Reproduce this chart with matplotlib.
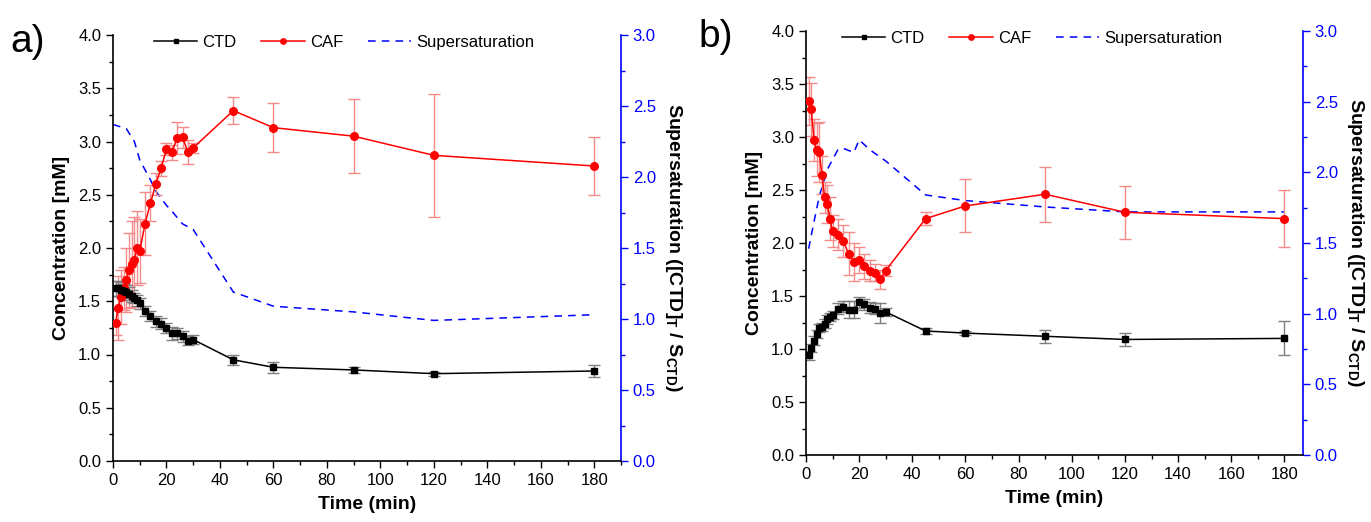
import matplotlib
matplotlib.use("Agg")
import matplotlib.pyplot as plt
from matplotlib.ticker import MultipleLocator, FormatStrFormatter

plt.rcParams['font.family'] = ['Liberation Sans', 'DejaVu Sans']
plt.rcParams['mathtext.fontset'] = 'custom'
plt.rcParams['mathtext.rm'] = 'Liberation Sans'
plt.rcParams['mathtext.bf'] = 'Liberation Sans:bold'

# ---------------- data: panel a ----------------
t_early = [1, 2, 3, 4, 5, 6, 7, 8, 9, 10, 12, 14, 16, 18, 20, 22, 24, 26, 28, 30, 45, 60, 90, 120, 180]

a_ctd = [1.62, 1.62, 1.61, 1.60, 1.59, 1.57, 1.55, 1.53, 1.51, 1.48, 1.41, 1.36, 1.31, 1.29, 1.25,
         1.20, 1.20, 1.17, 1.13, 1.14, 0.95, 0.88, 0.855, 0.82, 0.845]
a_ctd_err = [0.07, 0.07, 0.07, 0.06, 0.06, 0.06, 0.06, 0.05, 0.05, 0.05, 0.05, 0.05, 0.05, 0.05, 0.05,
             0.06, 0.05, 0.05, 0.04, 0.04, 0.05, 0.05, 0.03, 0.02, 0.06]
a_caf = [1.30, 1.44, 1.54, 1.62, 1.70, 1.79, 1.85, 1.89, 2.00, 1.97, 2.23, 2.42, 2.60, 2.75, 2.93,
         2.90, 3.03, 3.04, 2.90, 2.94, 3.29, 3.13, 3.05, 2.87, 2.77]
a_caf_err = [0.12, 0.30, 0.25, 0.20, 0.30, 0.35, 0.40, 0.40, 0.35, 0.30, 0.30, 0.17, 0.10, 0.07, 0.06,
             0.07, 0.15, 0.10, 0.11, 0.05, 0.13, 0.23, 0.35, 0.58, 0.27]
a_ss_t = [0, 5, 8, 10, 14, 16, 20, 22, 26, 30, 45, 60, 90, 120, 180]
a_ss = [2.37, 2.34, 2.25, 2.12, 1.98, 1.90, 1.80, 1.76, 1.67, 1.63, 1.19, 1.09, 1.05, 0.99, 1.03]

# ---------------- data: panel b ----------------
b_ctd = [0.94, 1.01, 1.08, 1.14, 1.20, 1.21, 1.24, 1.28, 1.30, 1.32, 1.38, 1.40, 1.37, 1.37, 1.44,
         1.42, 1.39, 1.38, 1.34, 1.35, 1.17, 1.15, 1.12, 1.09, 1.10]
b_ctd_err = [0.04, 0.04, 0.04, 0.04, 0.04, 0.04, 0.04, 0.04, 0.04, 0.04, 0.05, 0.05, 0.08, 0.08, 0.05,
             0.05, 0.05, 0.05, 0.09, 0.04, 0.03, 0.02, 0.06, 0.06, 0.16]
b_caf = [3.34, 3.26, 2.97, 2.88, 2.86, 2.64, 2.43, 2.37, 2.23, 2.11, 2.08, 2.02, 1.90, 1.82, 1.84,
         1.78, 1.74, 1.72, 1.66, 1.74, 2.23, 2.35, 2.46, 2.29, 2.23]
b_caf_err = [0.23, 0.25, 0.20, 0.25, 0.28, 0.18, 0.15, 0.18, 0.20, 0.15, 0.15, 0.15, 0.20, 0.18, 0.12,
             0.12, 0.10, 0.08, 0.09, 0.05, 0.06, 0.25, 0.26, 0.25, 0.27]
b_ss_t = [1, 3, 5, 8, 12, 14, 18, 20, 24, 30, 45, 60, 90, 120, 180]
b_ss = [1.46, 1.65, 1.83, 2.02, 2.16, 2.17, 2.14, 2.23, 2.16, 2.08, 1.84, 1.80, 1.755, 1.72, 1.72]

x_ticks = [0, 20, 40, 60, 80, 100, 120, 140, 160, 180]

W, H = 1371, 522
fig = plt.figure(figsize=(W / 100, H / 100), dpi=100)


def panel(rect, letter, letter_xy, ctd, ctd_err, caf, caf_err, ss_t, ss, xmax):
    l, t, r, b = rect
    ax = fig.add_axes([l / W, 1 - b / H, (r - l) / W, (b - t) / H])
    ax2 = ax.twinx()
    ax.set_zorder(ax2.get_zorder() + 1)
    ax.patch.set_visible(False)

    ax.errorbar(t_early, caf, yerr=caf_err, fmt='none', ecolor='#f58a8a', elinewidth=1,
                capsize=4, capthick=1, zorder=2)
    ax.errorbar(t_early, ctd, yerr=ctd_err, fmt='none', ecolor='#7f7f7f', elinewidth=1,
                capsize=4, capthick=1, zorder=2)
    l1, = ax.plot(t_early, ctd, '-s', color='black', ms=5, lw=1.1, label='CTD', zorder=4)
    l2, = ax.plot(t_early, caf, '-o', color='red', ms=5.5, lw=1.1, label='CAF', zorder=3)
    l3, = ax2.plot(ss_t, ss, '--', color='#0000ff', lw=1.1, dashes=(5, 4), label='Supersaturation')

    ax.set_xlim(0, xmax)
    ax.set_ylim(0, 4.0)
    ax2.set_ylim(0, 3.0)
    ax.set_xticks(x_ticks)
    ax.xaxis.set_minor_locator(MultipleLocator(10))
    ax.yaxis.set_major_locator(MultipleLocator(0.5))
    ax.yaxis.set_minor_locator(MultipleLocator(0.25))
    ax2.yaxis.set_major_locator(MultipleLocator(0.5))
    ax2.yaxis.set_minor_locator(MultipleLocator(0.25))
    ax.yaxis.set_major_formatter(FormatStrFormatter('%.1f'))
    ax2.yaxis.set_major_formatter(FormatStrFormatter('%.1f'))

    for a in (ax, ax2):
        a.spines['top'].set_visible(False)
    ax.spines['right'].set_visible(False)
    ax2.spines['left'].set_visible(False)
    ax2.spines['bottom'].set_visible(False)
    ax2.spines['right'].set_color('#0000ff')
    ax2.spines['right'].set_linewidth(1.2)
    ax.spines['left'].set_linewidth(1.2)
    ax.spines['bottom'].set_linewidth(1.2)

    ax.tick_params(axis='both', which='major', direction='out', length=5, width=1, labelsize=12)
    ax.tick_params(axis='both', which='minor', direction='out', length=3, width=1)
    ax2.tick_params(axis='y', which='major', direction='out', length=5, width=1, labelsize=12,
                    colors='#0000ff')
    ax2.tick_params(axis='y', which='minor', direction='out', length=3, width=1, colors='#0000ff')

    ax.set_xlabel('Time (min)', fontsize=14, fontweight='bold', labelpad=6)
    ax.set_ylabel('Concentration [mM]', fontsize=14, fontweight='bold', labelpad=6)
    ax2.set_ylabel(r'Supersaturation ([CTD]$_\mathbf{T}$ / S$_\mathbf{CTD}$)', fontsize=14,
                   fontweight='bold', rotation=270, labelpad=20)

    ax.legend(handles=[l1, l2, l3], loc='upper center', bbox_to_anchor=(0.455, 1.035), ncol=3,
              frameon=False, fontsize=12, handlelength=2.6, columnspacing=1.5, handletextpad=0.3,
              markerscale=0.7)
    fig.text(letter_xy[0] / W, 1 - letter_xy[1] / H, letter, fontsize=28, ha='left', va='center')
    return ax


panel((113, 35, 621, 461), 'a)', (10, 42), a_ctd, a_ctd_err, a_caf, a_caf_err, a_ss_t, a_ss, 190)
panel((806, 31, 1303, 455), 'b)', (698, 37), b_ctd, b_ctd_err, b_caf, b_caf_err, b_ss_t, b_ss, 187)

fig.savefig('out.png', dpi=100)
